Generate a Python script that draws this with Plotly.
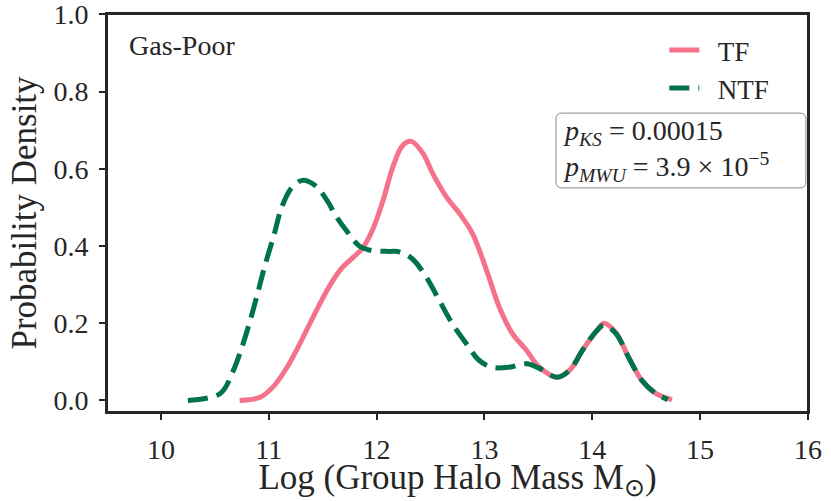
import plotly.graph_objects as go

# KDE curves (log group halo mass vs density)
tf_x = [10.73, 10.92, 11.04, 11.17, 11.29, 11.41, 11.54, 11.66, 11.78, 11.87, 11.96,
        12.06, 12.15, 12.24, 12.32, 12.43, 12.52, 12.65, 12.77, 12.89, 13.02, 13.14,
        13.26, 13.39, 13.51, 13.67, 13.79, 13.91, 14.04, 14.11, 14.22, 14.34, 14.46,
        14.59, 14.74]
tf_y = [0.0, 0.008, 0.035, 0.086, 0.148, 0.215, 0.285, 0.337, 0.37, 0.394, 0.44,
        0.518, 0.604, 0.66, 0.671, 0.64, 0.588, 0.526, 0.484, 0.432, 0.337, 0.24,
        0.173, 0.13, 0.086, 0.06, 0.078, 0.13, 0.18, 0.2, 0.175, 0.11, 0.052,
        0.018, 0.002]

ntf_x = [10.25, 10.55, 10.66, 10.73, 10.81, 10.89, 10.96, 11.05, 11.12, 11.21, 11.31,
         11.43, 11.54, 11.63, 11.72, 11.84, 11.96, 12.12, 12.21, 12.33, 12.46, 12.58,
         12.70, 12.83, 12.95, 13.07, 13.23, 13.39, 13.51, 13.67, 13.79, 13.91, 14.04,
         14.11, 14.22, 14.34, 14.46, 14.59, 14.70]
ntf_y = [0.0, 0.018, 0.07, 0.12, 0.19, 0.27, 0.345, 0.43, 0.50, 0.55, 0.57,
         0.557, 0.518, 0.475, 0.44, 0.40, 0.388, 0.386, 0.385, 0.367, 0.32, 0.26,
         0.20, 0.148, 0.104, 0.086, 0.086, 0.095, 0.083, 0.06, 0.078, 0.13, 0.18,
         0.195, 0.173, 0.11, 0.052, 0.018, 0.002]

PINK = "#F4728A"
GREEN = "#00724C"
INK = "#262626"
FONT = "Liberation Serif"
NBSP = "\u00a0"

fig = go.Figure()
fig.add_trace(go.Scatter(x=tf_x, y=tf_y, mode="lines", name=NBSP * 2 + "TF", legendgroup="a",
                         line=dict(color=PINK, width=5, shape="spline")))
fig.add_trace(go.Scatter(x=ntf_x, y=ntf_y, mode="lines", name=NBSP * 2 + "NTF", legendgroup="b",
                         line=dict(color=GREEN, width=5, shape="spline", dash="20px,9px")))

# rounded box behind the p-values
x0, x1, y0, y1 = 0.6405, 0.997, 0.563, 0.751
rx, ry = 0.0085, 0.015
box = (f"M {x0+rx},{y1} L {x1-rx},{y1} Q {x1},{y1} {x1},{y1-ry} "
       f"L {x1},{y0+ry} Q {x1},{y0} {x1-rx},{y0} L {x0+rx},{y0} "
       f"Q {x0},{y0} {x0},{y0+ry} L {x0},{y1-ry} Q {x0},{y1} {x0+rx},{y1} Z")
fig.add_shape(type="path", path=box, xref="paper", yref="paper",
              line=dict(color="#888888", width=1), fillcolor="white", layer="below")
# frame around the plotting area
fig.add_shape(type="rect", x0=0, x1=1, y0=0, y1=1, xref="paper", yref="paper",
              line=dict(color=INK, width=2), layer="above")

fig.add_annotation(x=0.648, y=0.657, xref="paper", yref="paper", xanchor="left",
                   yanchor="middle", showarrow=False, align="left",
                   text="<i>p</i><sub><i>KS</i></sub> = 0.00015<br>"
                        "<i>p</i><sub><i>MWU</i></sub> = 3.9 × 10<sup>−5</sup>",
                   font=dict(family=FONT, size=28, color=INK))
fig.add_annotation(x=0.028, y=0.92, xref="paper", yref="paper", xanchor="left",
                   yanchor="middle", showarrow=False, text="Gas-Poor",
                   font=dict(family=FONT, size=28, color=INK))

axis = dict(showline=True, mirror=True, linecolor=INK, linewidth=2, ticks="outside",
            ticklen=6, tickwidth=1.5, tickcolor=INK, showgrid=False, zeroline=False,
            automargin=False, ticklabeloverflow="allow",
            tickfont=dict(family=FONT, size=28, color=INK))

fig.update_layout(
    width=831, height=501,
    margin=dict(l=107, r=23, t=14, b=89),
    plot_bgcolor="white", paper_bgcolor="white",
    xaxis=dict(axis, range=[9.5, 16.001], dtick=1, ticklabelstandoff=5,
               title=dict(text="Log (Group Halo Mass M<sub>⊙</sub>)", standoff=5,
                          font=dict(family=FONT, size=35, color=INK))),
    yaxis=dict(axis, range=[-0.03, 1.001], dtick=0.2, tickformat=".1f",
               ticklabelstandoff=5,
               title=dict(text="Probability Density", standoff=6,
                          font=dict(family=FONT, size=35, color=INK))),
    legend=dict(x=0.795, y=0.97, xanchor="left", yanchor="top", bgcolor="rgba(0,0,0,0)",
                font=dict(family=FONT, size=27, color=INK), tracegroupgap=0),
    showlegend=True,
)

fig.write_html("out.html", config={"displayModeBar": False},
               post_script="document.body.style.margin='0';")
